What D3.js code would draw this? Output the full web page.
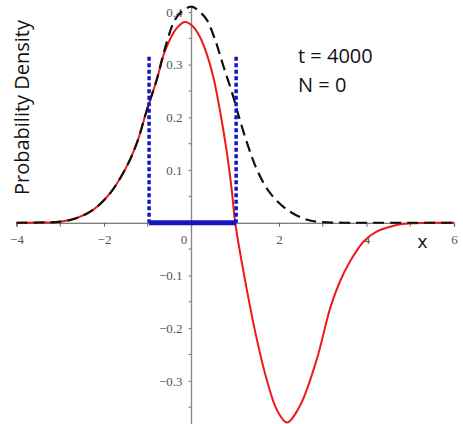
<!DOCTYPE html>
<html>
<head>
<meta charset="utf-8">
<script src="https://cdn.jsdelivr.net/npm/d3@7"></script>
<style>
  body { margin: 0; background: #fff; }
  svg { display: block; }
</style>
</head>
<body>
<svg id="chart" width="463" height="424"></svg>
<script>
// values
const redX = [-4, -3.5, -3, -2.62, -2.24, -1.86, -1.48, -1.25, -1.02, -0.8, -0.61, -0.45, -0.3, -0.15,
  0.04, 0.19, 0.35, 0.5, 0.65, 0.8, 0.92, 1.0, 1.26, 1.49, 1.72, 1.95, 2.18, 2.48, 2.86, 3.17, 3.39,
  3.62, 3.93, 4.23, 4.54, 4.77, 5.1, 5.5, 6];
const redY = [0, 0.0005, 0.002, 0.009, 0.025, 0.056, 0.107, 0.151, 0.214, 0.27, 0.325, 0.355, 0.373, 0.381,
  0.372, 0.353, 0.32, 0.276, 0.213, 0.138, 0.062, 0, -0.125, -0.22, -0.298, -0.355, -0.379, -0.347, -0.26,
  -0.162, -0.112, -0.074, -0.036, -0.017, -0.0076, -0.003, -0.0008, 0, 0];

const dashX = [-4, -3.5, -3, -2.62, -2.24, -1.86, -1.48, -1.25, -1.02, -0.8, -0.61, -0.38, -0.2, 0,
  0.19, 0.35, 0.54, 0.73, 0.96, 1.07, 1.3, 1.5, 1.79, 2.18, 2.63, 3.0, 3.5, 4, 5, 6];
const dashY = [0, 0.0005, 0.002, 0.009, 0.025, 0.056, 0.107, 0.151, 0.214, 0.27, 0.33, 0.385, 0.402, 0.41,
  0.40, 0.385, 0.347, 0.297, 0.238, 0.205, 0.144, 0.10, 0.057, 0.025, 0.006, 0.001, 0, 0, 0, 0];

const interval = [-0.97, 1.02];
const intervalTop = 0.315;

const xTicks = [-4, -2, 0, 2, 4, 6];
const xMinor = [-3, -1, 1, 3, 5];
const yTicks = [-0.3, -0.2, -0.1, 0.1, 0.2, 0.3, 0.4];
const yMinor = [-0.35, -0.25, -0.15, -0.05, 0.05, 0.15, 0.25, 0.35];

const labels = ['t = 4000', 'N = 0'];

const svg = d3.select('#chart');

const x = d3.scaleLinear().domain([-4, 6]).range([16.5, 454]);
const y = d3.scaleLinear().domain([-0.38, 0.42]).range([423, 1.4]);

const tickFont = '"Liberation Serif", "Times New Roman", serif';
const textFont = '"Open Sans", sans-serif';

// y axis
const yAxis = svg.append('g')
  .attr('transform', `translate(${x(0)},0)`)
  .call(d3.axisLeft(y).tickValues(yTicks).tickSize(3).tickPadding(6).tickFormat(d3.format('.1f')))
  .call(g => g.select('.domain').remove());
yAxis.append('line')
  .attr('y1', 8).attr('y2', 424)
  .attr('stroke', '#888').attr('stroke-width', 1.4);
yAxis.selectAll('.tick line').attr('stroke', '#777');
yAxis.selectAll('text')
  .attr('fill', '#555').attr('font-family', tickFont).attr('font-size', 13);
yAxis.selectAll('.minor')
  .data(yMinor).enter().append('line')
  .attr('x1', -3).attr('x2', 0)
  .attr('y1', d => y(d)).attr('y2', d => y(d))
  .attr('stroke', '#777');

// x axis
const xAxis = svg.append('g')
  .attr('transform', `translate(0,${y(0)})`)
  .call(d3.axisBottom(x).tickValues(xTicks).tickSize(4).tickPadding(8).tickFormat(d3.format('d')))
  .call(g => g.select('.domain').attr('stroke', '#555').attr('stroke-width', 1.2));
xAxis.selectAll('.tick line').attr('stroke', '#666');
xAxis.selectAll('text')
  .attr('fill', '#555').attr('font-family', tickFont).attr('font-size', 13);
xAxis.selectAll('.tick').filter(d => d === 0)
  .call(t => t.select('line').remove())
  .select('text').attr('dx', -8);
xAxis.selectAll('.minor')
  .data(xMinor).enter().append('line')
  .attr('x1', d => x(d)).attr('x2', d => x(d))
  .attr('y1', 0).attr('y2', 4)
  .attr('stroke', '#666');

// curves
const line = d3.line()
  .x(d => x(d[0]))
  .y(d => y(d[1]))
  .curve(d3.curveCatmullRom.alpha(0.5));

svg.append('path')
  .datum(d3.zip(redX, redY))
  .attr('d', line)
  .attr('fill', 'none')
  .attr('stroke', '#ee1a1a')
  .attr('stroke-width', 2);

svg.append('path')
  .datum(d3.zip(dashX, dashY))
  .attr('d', line)
  .attr('fill', 'none')
  .attr('stroke', '#111')
  .attr('stroke-width', 2.2)
  .attr('stroke-dasharray', '11,6');

// interval marks
svg.selectAll('.bound')
  .data(interval).enter().append('line')
  .attr('x1', d => x(d)).attr('x2', d => x(d))
  .attr('y1', y(intervalTop)).attr('y2', y(0))
  .attr('stroke', '#1414c4')
  .attr('stroke-width', 3.5)
  .attr('stroke-dasharray', '4,2.5');

svg.append('line')
  .attr('x1', x(interval[0])).attr('x2', x(interval[1]))
  .attr('y1', y(0)).attr('y2', y(0))
  .attr('stroke', '#1414c4')
  .attr('stroke-width', 5);

// labels
svg.selectAll('.info')
  .data(labels).enter().append('text')
  .attr('x', 298)
  .attr('y', (d, i) => 63 + i * 28.5)
  .attr('font-family', textFont)
  .attr('font-size', 20)
  .attr('fill', '#111')
  .text(d => d);

svg.append('text')
  .attr('transform', 'translate(29,107.5) rotate(-90)')
  .attr('text-anchor', 'middle')
  .attr('font-family', textFont)
  .attr('font-size', 20)
  .attr('fill', '#111')
  .text('Probability Density');

svg.append('text')
  .attr('x', 422.5)
  .attr('y', 247.5)
  .attr('text-anchor', 'middle')
  .attr('font-family', textFont)
  .attr('font-size', 19)
  .attr('fill', '#111')
  .text('x');
</script>
</body>
</html>
